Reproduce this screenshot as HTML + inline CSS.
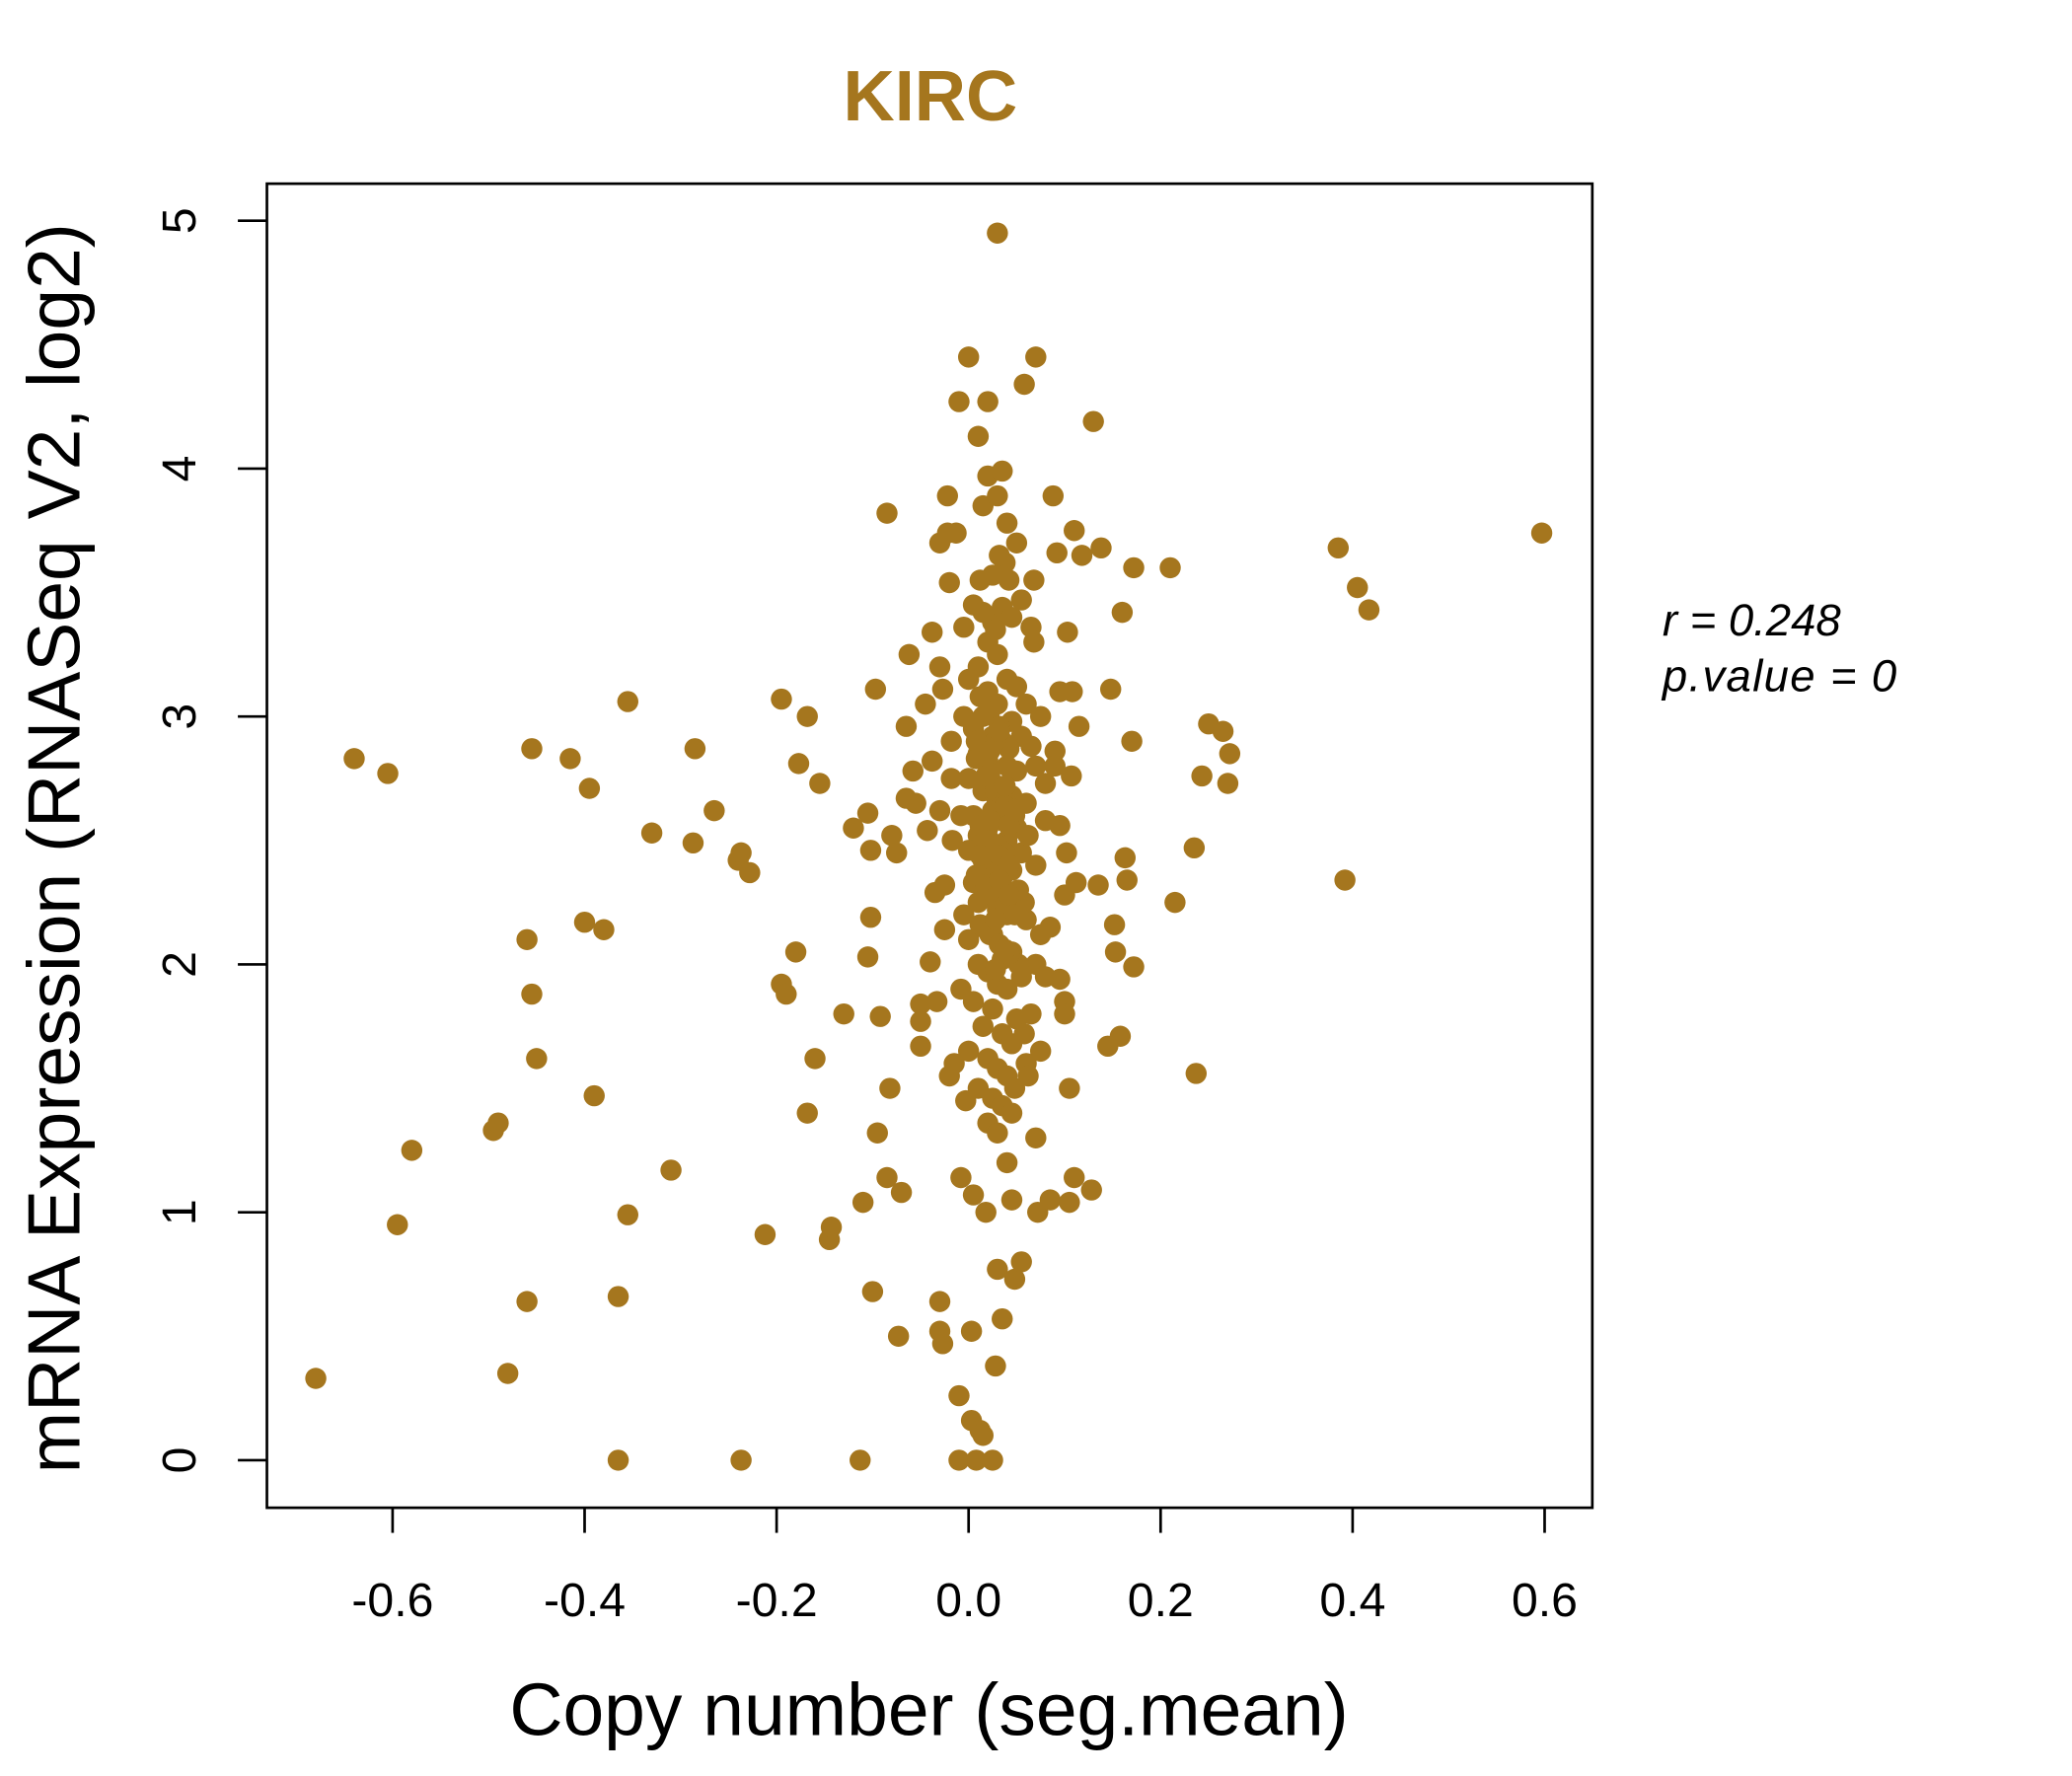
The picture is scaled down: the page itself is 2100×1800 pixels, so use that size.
<!DOCTYPE html>
<html><head><meta charset="utf-8"><style>html,body{margin:0;padding:0;background:#fff}svg{display:block}text{font-family:"Liberation Sans",sans-serif}</style></head>
<body>
<svg id="chart" width="2100" height="1800" viewBox="0 0 1568 1344" xmlns="http://www.w3.org/2000/svg">
<rect width="1568" height="1344" fill="#fff"/>
<text x="704" y="91" text-anchor="middle" font-size="54" font-weight="bold" fill="#A5761E">KIRC</text>
<rect x="202" y="139" width="1003" height="1002" fill="none" stroke="#000" stroke-width="2"/>
<g id="xaxis"></g>
<g id="yaxis"></g>
<g id="points"></g>
<text x="703" y="1313" text-anchor="middle" font-size="56">Copy number (seg.mean)</text>
<text transform="translate(60,642) rotate(-90)" text-anchor="middle" font-size="56">mRNA Expression (RNASeq V2, log2)</text>
<text x="1258" y="481" font-size="34" font-style="italic">r = 0.248</text>
<text x="1258" y="523" font-size="34" font-style="italic" letter-spacing="1">p.value = 0</text>
</svg>
<script>
const xTicks = [-0.6,-0.4,-0.2,0.0,0.2,0.4,0.6];
const xTickLabels = ["-0.6","-0.4","-0.2","0.0","0.2","0.4","0.6"];
const yTicks = [0,1,2,3,4,5];
const yTickLabels = ["0","1","2","3","4","5"];
const copyNumber = [-0.68,-0.64,-0.605,-0.595,-0.58,-0.495,-0.49,-0.48,-0.46,-0.46,-0.455,-0.455,-0.45,-0.415,-0.40,-0.395,-0.39,-0.38,-0.365,-0.365,-0.355,-0.355,-0.33,-0.31,-0.285,-0.287,-0.265,-0.24,-0.237,-0.237,-0.228,-0.212,-0.195,-0.195,-0.19,-0.18,-0.177,-0.168,-0.168,-0.16,-0.155,-0.145,-0.143,-0.13,-0.12,-0.113,-0.11,-0.105,-0.105,-0.102,-0.102,-0.1,-0.097,-0.095,-0.092,-0.085,-0.085,-0.082,-0.08,-0.075,-0.073,-0.07,-0.065,-0.065,-0.062,-0.058,-0.055,-0.05,-0.05,-0.05,-0.045,-0.043,-0.04,-0.038,-0.038,-0.035,-0.033,-0.03,-0.03,-0.03,-0.03,-0.03,-0.027,-0.027,-0.025,-0.025,-0.022,-0.022,-0.02,-0.02,-0.018,-0.018,-0.017,-0.015,-0.013,-0.01,-0.01,-0.01,-0.008,-0.005,-0.003,0,0.003,0.003,0.005,0.008,0.01,0.012,0.015,0.015,0.018,0.02,0.02,0.025,0.028,0.03,0.03,0.03,0.035,0.035,0.04,0.04,0.045,0.048,0.05,0.055,0.058,0.065,0.068,0.07,0.07,0.072,0.075,0.08,0.085,0.088,0.09,0.09,0.092,0.095,0.095,0.095,0.1,0.1,0.1,0.102,0.103,0.105,0.105,0.107,0.108,0.11,0.11,0.112,0.115,0.118,0.128,0.13,0.135,0.138,0.145,0.148,0.152,0.153,0.158,0.16,0.163,0.165,0.17,0.172,0.172,0.21,0.215,0.235,0.237,0.243,0.25,0.265,0.27,0.272,0.385,0.392,0.405,0.417,0.597,
0.005,0.015,0.025,0.035,0.045,0.055,0.02,0.03,0.01,0.04,0.05,0.0,0.02,0.06,0.03,0.015,0.045,0.005,0.025,0.035,0.055,0.065,0.01,0.02,0.04,0.05,0.0,0.03,0.015,0.045,0.06,0.025,0.005,0.035,0.02,0.05,0.01,0.04,0.03,0.0,0.055,0.015,0.025,0.045,0.035,0.005,0.02,0.05,0.01,0.03,0.04,0.06,0.015,0.025,0.0,0.045,0.035,0.01,0.02,0.055,0.03,0.04,0.005,0.025,0.05,0.015,0.035,0.045,0.0,0.02,0.03,0.04,0.01,0.025,0.035,0.045,0.02,0.03,0.06,0.065,0.07,0.07,0.07,0.075,0.068,-0.005,-0.008,-0.005,-0.008,0.018,0.028,0.038,0.022,0.032,0.012,0.042,0.028,0.038,0.042,0.025,0.032,0.012,0.08,0.085,0.08,0.075,0.062,0.058,0.052,0.048,0.058,0.062,
0.012,0.022,0.032,0.042,0.008,0.018,0.028,0.038,0.048,0.012,0.022,0.032,0.042,0.008,0.018,0.028,0.038,0.048,0.012,0.022,0.032,0.042,0.052,0.018,0.028,0.038,0.008,0.022,0.032,0.042,0.018,0.028,0.038,0.012,0.048,0.022,0.032,0.042,0.028,0.038];
const expression = [0.33,2.83,2.77,0.95,1.25,1.33,1.36,0.35,2.1,0.64,2.87,1.88,1.62,2.83,2.17,2.71,1.47,2.14,0.66,0,3.06,0.99,2.53,1.17,2.87,2.49,2.62,2.42,2.45,0,2.37,0.91,3.07,1.92,1.88,2.05,2.81,3.0,1.4,1.62,2.73,0.89,0.94,1.8,2.55,0,1.04,2.61,2.03,2.19,2.46,0.68,3.11,1.32,1.79,3.82,1.14,1.5,2.52,2.45,0.5,1.08,2.96,2.67,3.25,2.78,2.65,1.84,1.77,1.67,3.05,2.54,2.01,3.34,2.82,2.29,1.85,3.7,3.2,2.62,0.64,0.52,0.47,3.11,2.32,2.14,3.74,3.89,3.54,1.55,2.75,2.9,2.5,1.6,3.74,4.27,0.26,0,1.14,3.36,1.45,4.45,0.52,0.16,1.07,0,4.13,0.12,0.1,3.85,1.0,4.27,3.97,0,0.38,4.95,3.89,0.77,0.57,3.99,3.78,1.2,1.05,0.73,3.7,0.8,4.34,3.36,3.55,4.45,1.3,1.0,1.65,2.73,1.05,3.89,2.86,2.8,3.66,3.1,2.56,1.94,2.28,1.85,1.8,2.45,3.34,1.5,1.04,2.76,3.1,1.14,3.75,2.33,2.96,3.65,1.09,4.19,2.32,3.68,1.67,3.11,2.16,2.05,1.71,3.42,2.43,2.34,2.9,1.99,3.6,3.6,2.25,2.47,1.56,2.76,2.97,2.94,2.73,2.85,3.68,2.34,3.52,3.43,3.74,
3.45,3.42,3.38,3.44,3.4,3.47,3.3,3.25,3.2,3.15,3.12,3.15,3.1,3.05,3.05,3.0,2.98,2.95,2.92,2.9,2.92,2.88,2.85,2.82,2.8,2.78,2.75,2.72,2.7,2.68,2.65,2.62,2.6,2.58,2.55,2.55,2.52,2.5,2.48,2.46,2.45,2.42,2.4,2.38,2.35,2.33,2.3,2.28,2.25,2.22,2.2,2.18,2.15,2.12,2.1,2.05,2.02,2.0,1.97,1.95,1.92,1.9,1.85,1.82,1.78,1.75,1.72,1.68,1.65,1.62,1.58,1.55,1.5,1.46,1.43,1.4,1.36,1.32,1.6,1.8,2.0,2.4,2.8,3.0,3.3,2.2,2.6,3.0,1.9,2.88,2.68,2.45,2.58,2.38,2.35,2.62,3.35,3.62,3.55,3.57,3.65,3.55,2.58,2.15,1.95,2.12,2.52,2.25,2.0,1.5,1.72,1.55,
3.08,3.02,2.96,2.87,2.83,2.76,2.7,2.66,2.6,2.56,2.5,2.44,2.4,2.36,2.32,2.27,2.24,2.2,2.16,2.12,2.08,2.04,2.3,2.5,2.9,2.64,2.9,2.77,2.34,2.56,2.46,2.18,2.72,2.44,2.62,2.86,2.94,2.28,1.98,2.06];

const NS = "http://www.w3.org/2000/svg";
function xScale(v){ return 733 + v * 726.5; }
function yScale(v){ return 1105 - v * 187.6; }

const xa = document.getElementById('xaxis');
xTicks.forEach((t,i)=>{
  const l = document.createElementNS(NS,'line');
  
  
  l.setAttribute('x1', xScale(t)); l.setAttribute('x2', xScale(t));
  l.setAttribute('y1', 1141); l.setAttribute('y2', 1160);
  l.setAttribute('stroke','#000'); l.setAttribute('stroke-width','2');
  xa.appendChild(l);
  const tx = document.createElementNS(NS,'text');
  
  
  tx.setAttribute('x', xScale(t)); tx.setAttribute('y', 1223);
  tx.setAttribute('text-anchor','middle'); tx.setAttribute('font-size','36');
  tx.textContent = xTickLabels[i];
  xa.appendChild(tx);
});
const ya = document.getElementById('yaxis');
yTicks.forEach((t,i)=>{
  const l = document.createElementNS(NS,'line');
  
  
  l.setAttribute('x1', 180); l.setAttribute('x2', 202);
  l.setAttribute('y1', yScale(t)); l.setAttribute('y2', yScale(t));
  l.setAttribute('stroke','#000'); l.setAttribute('stroke-width','2');
  ya.appendChild(l);
  const tx = document.createElementNS(NS,'text');
  
  
  tx.setAttribute('transform', 'translate(148,' + yScale(t) + ') rotate(-90)');
  tx.setAttribute('text-anchor','middle'); tx.setAttribute('font-size','36');
  tx.textContent = yTickLabels[i];
  ya.appendChild(tx);
});
const pg = document.getElementById('points');
for (let i = 0; i < copyNumber.length; i++) {
  const c = document.createElementNS(NS,'circle');
  
  
  c.setAttribute('cx', xScale(copyNumber[i]));
  c.setAttribute('cy', yScale(expression[i]));
  c.setAttribute('r', 8);
  c.setAttribute('fill', '#A5761E');
  pg.appendChild(c);
}
</script>
</body></html>
